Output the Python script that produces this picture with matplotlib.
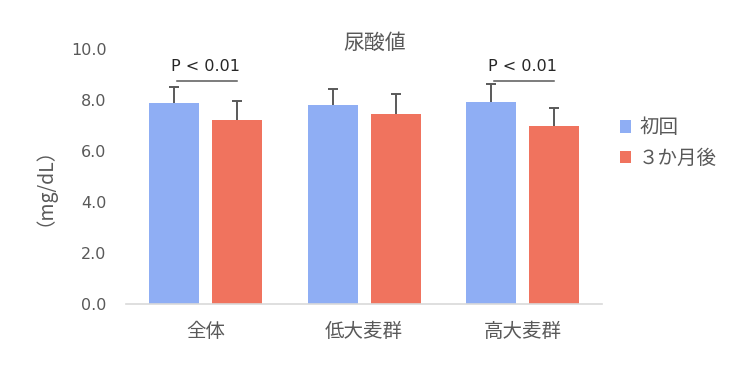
import numpy as np
import matplotlib
matplotlib.use("Agg")
import matplotlib.pyplot as plt

plt.rcParams['font.family'] = ['DejaVu Sans', 'Noto Sans CJK JP']
jp = ['Noto Sans CJK JP', 'DejaVu Sans']

# データ
categories = ["全体", "低大麦群", "高大麦群"]
series_names = ["初回", "３か月後"]
first = [7.87, 7.79, 7.91]
after = [7.20, 7.44, 6.97]
first_err = [0.65, 0.64, 0.72]
after_err = [0.77, 0.81, 0.72]
sig_groups = [0, 2]
sig_label = "P < 0.01"

c_blue = "#8FAEF4"
c_red = "#F0735E"
c_text = "#595959"

fig = plt.figure(figsize=(7.5, 3.71), dpi=100)
ax = fig.add_axes([0.168, 0.181, 0.635, 0.687])

x = np.arange(len(categories))
w = 0.315
off = 0.199
for xs, vals, errs, col, name in [(x - off, first, first_err, c_blue, series_names[0]),
                                  (x + off, after, after_err, c_red, series_names[1])]:
    ax.bar(xs, vals, w, color=col, label=name, zorder=2)
    # 上側のみの誤差棒
    ax.errorbar(xs, vals, yerr=[np.zeros(3), errs], fmt='none', ecolor=c_text,
                elinewidth=1.4, capsize=0, zorder=3)
    ax.plot(xs, np.array(vals) + np.array(errs), ls='none', marker='_', ms=7,
            mew=1.4, color=c_text, zorder=3)

# 有意差
for g in sig_groups:
    ax.plot([g - off + 0.02, g + off], [8.76, 8.76], color=c_text, lw=1.1)
    ax.text(g, 9.0, sig_label, ha='center', va='bottom', fontsize=11.5, color="#262626")

ax.set_ylim(0, 10)
ax.set_xlim(-0.5, 2.5)
ax.set_yticks(np.arange(0, 10.1, 2))
ax.set_yticklabels([f"{v:.1f}" for v in np.arange(0, 10.1, 2)])
ax.set_xticks(x)
ax.set_xticklabels(categories, fontsize=14, color=c_text, family=jp)
ax.tick_params(axis='y', length=0, labelsize=11.5, labelcolor=c_text, pad=14)
ax.tick_params(axis='x', length=0, pad=12)
for s in ['top', 'right', 'left']:
    ax.spines[s].set_visible(False)
ax.spines['bottom'].set_color("#D9D9D9")
ax.spines['bottom'].set_linewidth(1.2)

ax.set_ylabel("（mg/dL）", fontsize=14, color=c_text, labelpad=18, family=jp)
fig.text(0.5, 0.885, "尿酸値", ha='center', va='center', fontsize=15, color=c_text, family=jp)

leg = ax.legend(loc='center left', bbox_to_anchor=(1.0, 0.63), frameon=False,
                prop={'family': jp, 'size': 14}, handlelength=0.6, handleheight=0.6,
                handletextpad=0.4, labelspacing=0.5, labelcolor=c_text)

fig.savefig("out.png", dpi=100)
